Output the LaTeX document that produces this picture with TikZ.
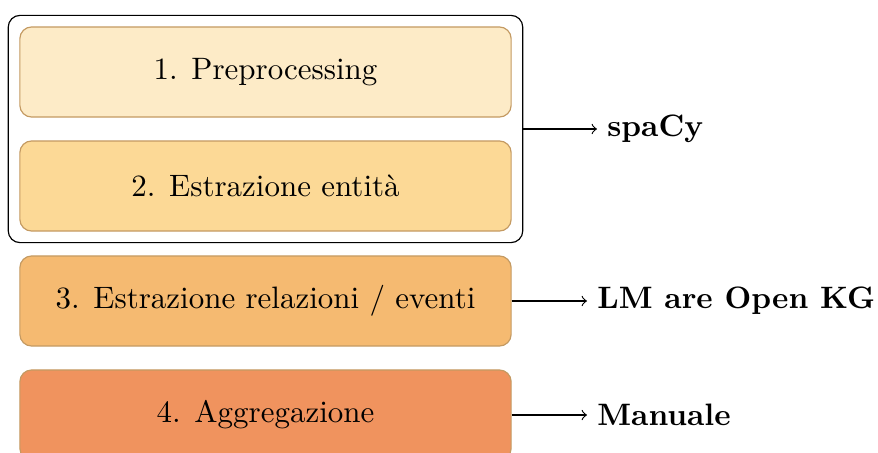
\documentclass[tikz,border=0pt]{standalone}
\usetikzlibrary{positioning,fit}
\definecolor{phaseA}{HTML}{FDEBC7}
\definecolor{phaseB}{HTML}{FCD996}
\definecolor{phaseC}{HTML}{F5BA71}
\definecolor{phaseD}{HTML}{F0935E}
\definecolor{phaseline}{HTML}{C49A62}
\newcommand{\picfont}{\fontsize{10.57}{12.7}\selectfont}
\tikzset{
  phase/.style={draw=phaseline, rounded corners, minimum width=5.892cm, minimum height=1.08cm, align=center},
  tool/.style={anchor=west, font=\picfont\bfseries},
}
\begin{document}
\begin{tikzpicture}[x=0.012cm,y=-0.012cm,font=\picfont]
\useasboundingbox (0,0) rectangle (878,452);
\node[phase, fill=phaseA] (pre) at (265.5,72) {1. Preprocessing};
\node[phase, fill=phaseB] (ent) at (265.5,186) {2. Estrazione entità};
\node[phase, fill=phaseC] (rel) at (265.5,301) {3. Estrazione relazioni / eventi};
\node[phase, fill=phaseD] (agg) at (265.5,415) {4. Aggregazione};
\node[draw, rounded corners, inner sep=0.132cm, fit=(pre)(ent)] (group) {};

\node[tool] (spacy) at (597,129) {spaCy};
\node[tool] (lm) at (587,301) {LM are Open KG};
\node[tool] (man) at (587,415) {Manuale};

\draw[->] (group.east) -- (spacy.west);
\draw[->] (rel.east) -- (lm.west);
\draw[->] (agg.east) -- (man.west);
\end{tikzpicture}
\end{document}
